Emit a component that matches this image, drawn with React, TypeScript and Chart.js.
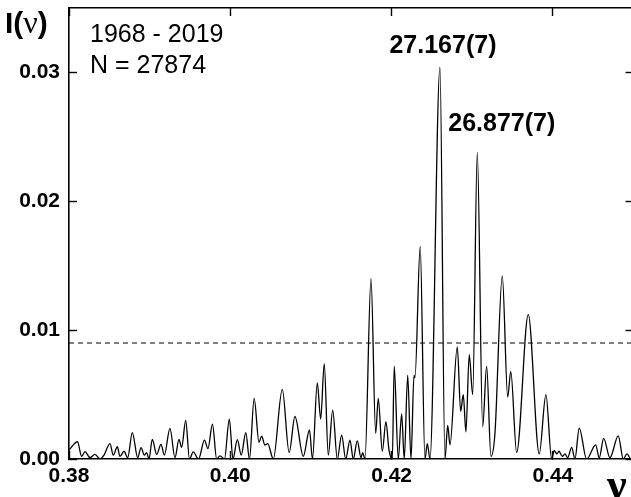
import React, { useEffect, useRef } from 'react';
import { Chart, registerables } from 'chart.js';

Chart.register(...registerables);

// Frequency (ν) and periodogram intensity I(ν)
const nu = [
  0.38, 0.38105, 0.38157, 0.38198, 0.3826, 0.38322, 0.38384, 0.38434, 0.38508, 0.38549,
  0.38599, 0.38632, 0.38682, 0.38728, 0.38785, 0.38852, 0.38893, 0.38934, 0.38963, 0.38992,
  0.39033, 0.39087, 0.39141, 0.39182, 0.39252, 0.39314, 0.39364, 0.39397, 0.39447, 0.39494,
  0.39541, 0.39606, 0.3968, 0.39723, 0.39779, 0.39831, 0.39872, 0.39928, 0.39988, 0.40033,
  0.40087, 0.40136, 0.40192, 0.40238, 0.40296, 0.40356, 0.40389, 0.4043, 0.40464, 0.40533,
  0.40645, 0.4073, 0.40802, 0.40905, 0.40982, 0.41019, 0.41079, 0.41121, 0.41165, 0.41215,
  0.4127, 0.41327, 0.41381, 0.41431, 0.41484, 0.41525, 0.41575, 0.41621, 0.41642, 0.4167,
  0.41745, 0.41803, 0.41835, 0.41885, 0.4193, 0.41968, 0.42009, 0.42033, 0.42083, 0.42125,
  0.42157, 0.422, 0.42241, 0.42278, 0.4229, 0.42355, 0.42414, 0.42443, 0.42476, 0.426,
  0.42662, 0.42696, 0.42724, 0.42815, 0.42857, 0.42889, 0.42922, 0.42963, 0.43006, 0.43063,
  0.4313, 0.43179, 0.43232, 0.43282, 0.43373, 0.4344, 0.43478, 0.43551, 0.43695, 0.43831,
  0.43914, 0.43985, 0.44017, 0.44051, 0.44076, 0.44117, 0.4415, 0.44183, 0.44233, 0.44274,
  0.44327, 0.44419, 0.44531, 0.44575, 0.4463, 0.44708, 0.44811, 0.44873, 0.44919, 0.44968,
  0.45,
];
const intensity = [
  0.0007, 0.00134, 0.0002, 0.00057, 0.0001, 0.00036, 0.0, 0.0003, 0.0012, 0.0003,
  0.00095, 0.0002, 0.0006, 0.0001, 0.00205, 0.0001, 0.00088, 0.0003, 0.0005, 0.0,
  0.00152, 0.00036, 0.00114, 0.0003, 0.00238, 0.0001, 0.00152, 0.0009, 0.003, 0.0,
  0.00055, 0.0, 0.00147, 0.0008, 0.0027, 0.0, 0.00025, 0.0, 0.0031, 0.0,
  0.0015, 0.0003, 0.00204, 0.0, 0.0047, 0.0013, 0.00178, 0.00108, 0.0012, 0.0,
  0.0054, 0.0005, 0.0033, 0.0002, 0.00225, 0.0, 0.0059, 0.0031, 0.0074, 0.0003,
  0.0038, 0.0, 0.00186, 0.0, 0.00147, 0.0, 0.0014, 0.0001, 0.0005, 0.0,
  0.014, 0.002, 0.0047, 0.0006, 0.0029, 0.0007, 0.0, 0.0072, 0.0, 0.0035,
  0.0, 0.0065, 0.0, 0.0065, 0.0063, 0.0165, 0.0, 0.0012, 0.0, 0.0304,
  0.0, 0.0026, 0.0011, 0.0087, 0.0037, 0.005, 0.0021, 0.0081, 0.005, 0.0238,
  0.0025, 0.0072, 0.0002, 0.002, 0.0142, 0.0048, 0.0068, 0.0005, 0.0112, 0.0004,
  0.005, 0.0, 0.00064, 0.0004, 0.0006, 0.0002, 0.0004, 0.0001, 0.0009, 0.0,
  0.0024, 0.0, 0.0011, 0.0001, 0.0016, 0.0001, 0.0018, 0.0, 0.0004, 0.0,
  0.0002,
];

const thresholdNu = [0.38, 0.45];
const thresholdLevel = [0.009, 0.009];

const xTickValues = [0.38, 0.4, 0.42, 0.44];
const yTickValues = [0, 0.01, 0.02, 0.03];

const peakLabels = ['27.167(7)', '26.877(7)'];
const peakNu = [0.426, 0.43063];
const peakI = [0.0304, 0.0238];

const yearsText = '1968 - 2019';
const countText = 'N = 27874';

const SANS = '"Liberation Sans", Arial, sans-serif';
const SERIF = '"Liberation Serif", "Times New Roman", serif';

const textPlugin = {
  id: 'texts',
  afterDraw(chart: any) {
    const ctx = chart.ctx;
    const xs = chart.scales.x;
    const ys = chart.scales.y;
    const area = chart.chartArea;
    ctx.save();
    ctx.fillStyle = '#000';
    ctx.textBaseline = 'alphabetic';

    ctx.font = `25px ${SANS}`;
    ctx.textAlign = 'left';
    ctx.fillText(yearsText, area.left + 21, 42);
    ctx.fillText(countText, area.left + 21, 73);

    ctx.font = `bold 25px ${SANS}`;
    ctx.textAlign = 'center';
    ctx.fillText(peakLabels[0], xs.getPixelForValue(peakNu[0]) + 3, ys.getPixelForValue(peakI[0]) - 14);
    ctx.textAlign = 'left';
    ctx.fillText(peakLabels[1], xs.getPixelForValue(peakNu[1]) - 29, ys.getPixelForValue(peakI[1]) - 21);

    // y-axis title I(ν)
    let x = 5;
    const base = 33;
    ctx.font = `bold 30px ${SANS}`;
    ctx.fillText('I(', x, base);
    x += ctx.measureText('I(').width;
    ctx.font = `32px ${SERIF}`;
    ctx.fillText('ν', x, base);
    x += ctx.measureText('ν').width;
    ctx.font = `bold 30px ${SANS}`;
    ctx.fillText(')', x, base);

    // x-axis title ν
    ctx.font = `bold 44px ${SERIF}`;
    ctx.textAlign = 'left';
    ctx.fillText('ν', 607, 499);
    ctx.restore();
  },
};

const tickFont = { family: SANS, size: 21, weight: 'bold' as const };

function makeGrid() {
  return {
    drawOnChartArea: false,
    drawTicks: true,
    tickLength: -8,
    tickColor: '#000',
    tickWidth: 1.4,
  };
}
const border = { display: true, color: '#000', width: 1.6 };

const noPad = (s: any) => {
  s.paddingTop = 0;
  s.paddingBottom = 0;
  s.paddingLeft = 0;
  s.paddingRight = 0;
};

export default function App() {
  const ref = useRef<HTMLCanvasElement>(null);

  useEffect(() => {
    if (!ref.current) return;
    const chart = new Chart(ref.current, {
      type: 'line',
      data: {
        datasets: [
          {
            data: nu.map((v, i) => ({ x: v, y: intensity[i] })),
            borderColor: '#000',
            borderWidth: 1.3,
            pointRadius: 0,
            cubicInterpolationMode: 'monotone',
            fill: false,
          },
          {
            data: thresholdNu.map((v, i) => ({ x: v, y: thresholdLevel[i] })),
            borderColor: '#000',
            borderWidth: 1,
            borderDash: [5, 4],
            pointRadius: 0,
            fill: false,
          },
        ],
      },
      plugins: [textPlugin],
      options: {
        animation: false,
        responsive: false,
        events: [],
        layout: { padding: { top: 8, right: 6.5, left: 0, bottom: 0 } },
        plugins: { legend: { display: false }, tooltip: { enabled: false } },
        scales: {
          x: {
            type: 'linear',
            position: 'bottom',
            min: 0.38,
            max: 0.45,
            afterBuildTicks: (s: any) => { s.ticks = xTickValues.map((v) => ({ value: v })); },
            afterFit: (s: any) => { s.height = 38; noPad(s); },
            ticks: {
              callback: (v: any) => Number(v).toFixed(2),
              font: tickFont,
              color: '#000',
              padding: 13,
              maxRotation: 0,
              autoSkip: false,
            },
            grid: makeGrid(),
            border,
          },
          x2: {
            type: 'linear',
            position: 'top',
            min: 0.38,
            max: 0.45,
            afterBuildTicks: (s: any) => { s.ticks = xTickValues.map((v) => ({ value: v })); },
            afterFit: (s: any) => { s.height = 0; noPad(s); },
            ticks: { display: false },
            grid: makeGrid(),
            border,
          },
          y: {
            type: 'linear',
            position: 'left',
            min: 0,
            max: 0.035,
            afterBuildTicks: (s: any) => { s.ticks = yTickValues.map((v) => ({ value: v })); },
            afterFit: (s: any) => { s.width = 69; noPad(s); },
            ticks: {
              callback: (v: any) => Number(v).toFixed(2),
              font: tickFont,
              color: '#000',
              padding: 17,
            },
            grid: makeGrid(),
            border,
          },
          y2: {
            type: 'linear',
            position: 'right',
            min: 0,
            max: 0.035,
            afterBuildTicks: (s: any) => { s.ticks = yTickValues.map((v) => ({ value: v })); },
            afterFit: (s: any) => { s.width = 0; noPad(s); },
            ticks: { display: false },
            grid: makeGrid(),
            border,
          },
        },
      } as any,
    });
    return () => chart.destroy();
  }, []);

  return (
    <div style={{ position: 'fixed', left: 0, top: 0, width: 631, height: 497, overflow: 'hidden', background: '#fff' }}>
      <canvas ref={ref} width={640} height={497} style={{ display: 'block' }} />
    </div>
  );
}
